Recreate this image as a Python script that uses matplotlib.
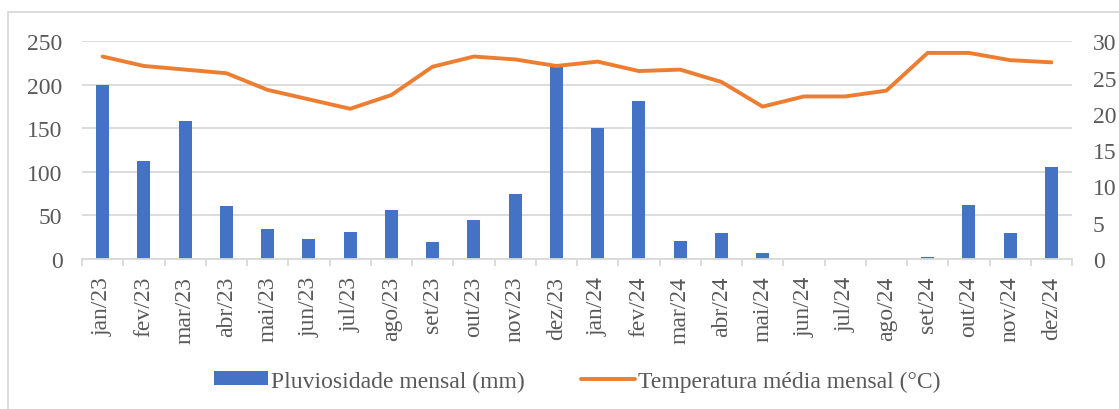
import matplotlib
matplotlib.use('Agg')
import matplotlib.pyplot as plt
from matplotlib.patches import Rectangle
import numpy as np

meses = ['jan/23', 'fev/23', 'mar/23', 'abr/23', 'mai/23', 'jun/23', 'jul/23', 'ago/23',
         'set/23', 'out/23', 'nov/23', 'dez/23', 'jan/24', 'fev/24', 'mar/24', 'abr/24',
         'mai/24', 'jun/24', 'jul/24', 'ago/24', 'set/24', 'out/24', 'nov/24', 'dez/24']
chuva = [200, 112, 159, 61, 35, 23, 31, 56, 20, 45, 75, 220,
         151, 182, 21, 30, 7, 0, 0, 0, 2, 62, 30, 106]
temp = [27.9, 26.6, 26.1, 25.6, 23.3, 22.0, 20.7, 22.6, 26.5, 27.9, 27.5, 26.6,
        27.2, 25.9, 26.1, 24.4, 21.0, 22.4, 22.4, 23.2, 28.4, 28.4, 27.4, 27.1]

plt.rcParams['font.family'] = ['Liberation Serif', 'DejaVu Serif']
cinza = '#595959'

fig = plt.figure(figsize=(11.19, 4.10), dpi=100)
ax = fig.add_axes([82/1119, 1 - 260/410, 990/1119, 217.7/410])
x = np.arange(len(meses))

ax.bar(x, chuva, width=0.32, color='#4472C4', label='Pluviosidade mensal (mm)', zorder=2)
ax.set_ylim(0, 250)
ax.set_xlim(-0.5, len(meses) - 0.5)
ax.set_yticks([0, 50, 100, 150, 200, 250])
ax.grid(axis='y', color='#d9d9d9', linewidth=1.3, zorder=0)
ax.set_axisbelow(True)
ax.set_xticks(x)
ax.set_xticklabels(meses, rotation=90, fontsize=17, color=cinza)
ax.set_xticks(np.arange(-0.5, len(meses)), minor=True)
ax.tick_params(axis='x', which='major', length=0, pad=12)
ax.tick_params(axis='x', which='minor', length=5, color='#d9d9d9', width=1.3)
ax.tick_params(axis='y', length=0, labelsize=17, labelcolor=cinza, pad=14)
for s in ['top', 'right', 'left']:
    ax.spines[s].set_visible(False)
ax.spines['bottom'].set_color('#d9d9d9')
ax.spines['bottom'].set_linewidth(1.3)

ax2 = ax.twinx()
ax2.plot(x, temp, color='#ED7D31', linewidth=2.8, solid_capstyle='round',
         label='Temperatura média mensal (°C)', zorder=3)
ax2.set_ylim(0, 30)
ax2.set_yticks([0, 5, 10, 15, 20, 25, 30])
ax2.tick_params(axis='y', length=0, labelsize=17, labelcolor=cinza, pad=15)
for s in ax2.spines.values():
    s.set_visible(False)

h1, l1 = ax.get_legend_handles_labels()
h2, l2 = ax2.get_legend_handles_labels()
fig.legend(h1 + h2, l1 + l2, loc='center', bbox_to_anchor=(577/1119, 1 - 382/410),
           ncol=2, frameon=False, fontsize=17, labelcolor=cinza, handlelength=2.3,
           handleheight=0.55, handletextpad=0.1, columnspacing=2.4)

# moldura
fig.patches.append(Rectangle((8/1119, -0.2), 1.5, 1 - 13/410 + 0.2, transform=fig.transFigure,
                             fill=False, edgecolor='#d9d9d9', linewidth=1.3))

fig.savefig('out.png', dpi=100, facecolor='white')
